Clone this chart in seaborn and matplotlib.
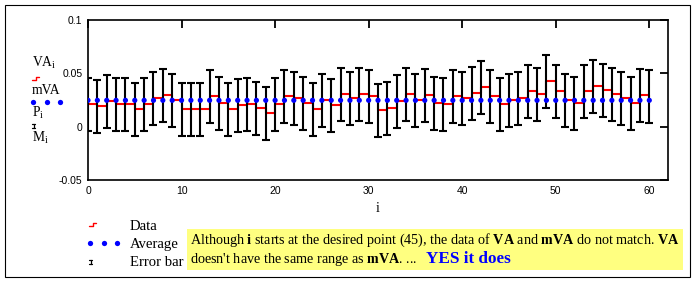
import matplotlib
matplotlib.use("Agg")
import matplotlib.pyplot as plt
from matplotlib.lines import Line2D
from matplotlib.patches import Rectangle
import numpy as np
import pandas as pd
import seaborn as sns

# ---------------- data ----------------
index_i = list(range(61))
data_va = [0.0209, 0.0191, 0.0238, 0.0209, 0.0209, 0.0163, 0.0209, 0.0266, 0.0294, 0.0247,
           0.0163, 0.0163, 0.0163, 0.0284, 0.0219, 0.0163, 0.0200, 0.0209, 0.0172, 0.0125,
           0.0209, 0.0284, 0.0266, 0.0219, 0.0163, 0.0247, 0.0200, 0.0303, 0.0266, 0.0303,
           0.0284, 0.0153, 0.0172, 0.0238, 0.0303, 0.0247, 0.0294, 0.0219, 0.0209, 0.0284,
           0.0266, 0.0313, 0.0369, 0.0284, 0.0209, 0.0247, 0.0266, 0.0331, 0.0303, 0.0425,
           0.0331, 0.0247, 0.0219, 0.0331, 0.0378, 0.0341, 0.0303, 0.0266, 0.0219, 0.0294,
           0.0281]
average_mva = 0.0247
error_half = 0.025
x_ticks = [0, 10, 20, 30, 40, 50, 60]
x_tick_labels = ["0", "10", "20", "30", "40", "50", "60"]
y_ticks = [-0.05, 0, 0.05, 0.1]
y_tick_labels = ["-0.05", "0", "0.05", "0.1"]
legend_labels = ["Data", "Average", "Error bar"]

# ---------------- style ----------------
sns.set_theme(style="white")
plt.rcParams["font.family"] = ["Liberation Serif", "DejaVu Serif"]
plt.rcParams["mathtext.fontset"] = "custom"
plt.rcParams["mathtext.rm"] = "Liberation Serif"
plt.rcParams["mathtext.it"] = "Liberation Serif:italic"
plt.rcParams["mathtext.bf"] = "Liberation Serif:bold"

W, H = 695, 282
fig = plt.figure(figsize=(W / 100, H / 100), dpi=100)
fig.patch.set_facecolor("white")


def fx(x):
    return x / W


def fy(y):
    return 1 - y / H


ax = fig.add_axes([fx(88), fy(180), (668 - 88) / W, 160 / H])
ax.set_facecolor("white")

df = pd.DataFrame({"i": index_i, "VA": data_va, "mVA": [average_mva] * len(index_i)})

# Data (step trace)
sns.lineplot(data=df, x="i", y="VA", drawstyle="steps-post", color="red", lw=1.5,
             estimator=None, sort=False, ax=ax, zorder=1.5, legend=False)
# Error bars
ax.errorbar(df["i"], df["VA"], yerr=error_half, fmt="none", ecolor="black",
            elinewidth=1.5, capsize=2.6, capthick=1.5, zorder=2)
# Average
sns.scatterplot(data=df, x="i", y="mVA", color="#0000ff", s=14, edgecolor="none",
                marker="o", ax=ax, zorder=4, legend=False)

ax.set_xlim(0, 62)
ax.set_ylim(-0.05, 0.1)
ax.set_xticks(x_ticks)
ax.set_xticklabels(x_tick_labels)
ax.set_yticks(y_ticks)
ax.set_yticklabels(y_tick_labels)
ax.tick_params(direction="in", length=6, width=1.3, top=True, right=True,
               labelsize=7.5, pad=4, colors="black")
for lbl in ax.get_xticklabels() + ax.get_yticklabels():
    lbl.set_fontfamily("Liberation Sans")
for s in ax.spines.values():
    s.set_color("black")
    s.set_linewidth(1.2)
ax.set_xlabel("i", fontsize=10, color="black", labelpad=5)
ax.set_ylabel("")

# ---------------- left axis labels ----------------
fs = 9.8
fig.text(fx(32), fy(67), r"VA$_{\mathrm{i}}$", fontsize=fs, va="baseline", ha="left", color="black")
fig.text(fx(32), fy(94), "mVA", fontsize=fs, va="baseline", ha="left", color="black")
fig.text(fx(32), fy(117), r"P$_{\mathrm{i}}$", fontsize=fs, va="baseline", ha="left", color="black")
fig.text(fx(32), fy(142), r"M$_{\mathrm{i}}$", fontsize=fs, va="baseline", ha="left", color="black")


def step_icon(x0, y0):
    fig.add_artist(Line2D([fx(x0), fx(x0 + 3.5), fx(x0 + 3.5), fx(x0 + 7)],
                          [fy(y0 + 1.5), fy(y0 + 1.5), fy(y0 - 1.5), fy(y0 - 1.5)],
                          transform=fig.transFigure, color="red", lw=1.0))


def dots_icon(x0, y0):
    fig.add_artist(Line2D([fx(x0), fx(x0 + 13.5), fx(x0 + 27)], [fy(y0)] * 3,
                          transform=fig.transFigure, ls="none", marker="o",
                          markersize=3.8, markerfacecolor="#0000ff",
                          markeredgecolor="none"))


def err_icon(x0, y0):
    fig.add_artist(Line2D([fx(x0 + 1.5), fx(x0 + 1.5)], [fy(y0 - 2), fy(y0 + 2)],
                          transform=fig.transFigure, color="black", lw=0.9))
    for yy in (y0 - 2, y0 + 2):
        fig.add_artist(Line2D([fx(x0), fx(x0 + 3)], [fy(yy), fy(yy)],
                              transform=fig.transFigure, color="black", lw=0.9))


step_icon(32, 78.5)
dots_icon(33, 102.3)
err_icon(32, 126)

# ---------------- legend ----------------
step_icon(89, 224.5)
dots_icon(90, 243.3)
err_icon(89, 262)
lfs = 10.6
fig.text(fx(130), fy(230), legend_labels[0], fontsize=lfs, va="baseline", ha="left", color="black")
fig.text(fx(130), fy(248), legend_labels[1], fontsize=lfs, va="baseline", ha="left", color="black")
fig.text(fx(130), fy(266), legend_labels[2], fontsize=lfs, va="baseline", ha="left", color="black")

# ---------------- annotation ----------------
fig.add_artist(Rectangle((fx(187), fy(270)), (683 - 187) / W, 41 / H,
                         transform=fig.transFigure, facecolor="#ffff80",
                         edgecolor="none", zorder=0.5))
line1 = (r"Although $\mathbf{i}$ starts at the desired point (45), the data of "
         r"$\mathbf{VA}$ and $\mathbf{mVA}$ do not match. $\mathbf{VA}$")
line2 = r"doesn't have the same range as $\mathbf{mVA}$. ... "
afs = 10.2
fig.text(fx(189.5), fy(244), line1, fontsize=afs, va="baseline", ha="left", color="black", zorder=2)
fig.text(fx(189.5), fy(262.7), line2, fontsize=afs, va="baseline", ha="left", color="black", zorder=2)
fig.text(fx(425.7), fy(263), "YES it does", fontsize=12.3, fontweight="bold",
         va="baseline", ha="left", color="#0000ff", zorder=2)

# ---------------- outer frame ----------------
fig.add_artist(Rectangle((fx(5), fy(277)), (690 - 5) / W, (277 - 5) / H,
                         transform=fig.transFigure, facecolor="none",
                         edgecolor="black", lw=0.8, zorder=5))

fig.savefig("out.png", dpi=100, facecolor="white")
